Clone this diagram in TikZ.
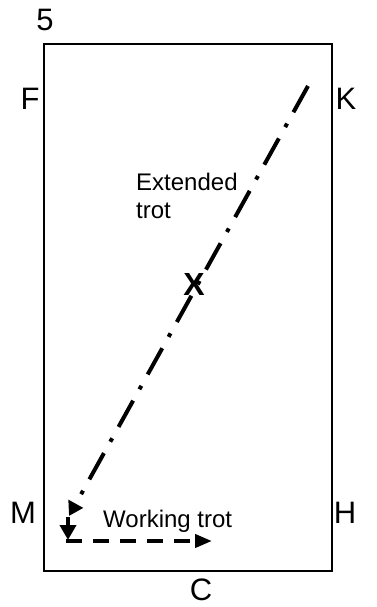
\documentclass[tikz,border=0pt]{standalone}
\usepackage{fontspec}
\setmainfont{Liberation Sans}
\usetikzlibrary{arrows.meta}
\begin{document}
\begin{tikzpicture}[x=1pt,y=-1pt,
  big/.style={font=\fontsize{31}{34}\selectfont, inner sep=0pt},
  small/.style={font=\fontsize{24}{28}\selectfont, inner sep=0pt, align=left},
  arena/.style={line width=1.5pt},
  ext/.style={line width=4pt, dash pattern=on 30pt off 13pt on 4pt off 13pt,
    -{Triangle[length=14pt,width=16pt]}},
  downarr/.style={line width=4pt, -{Triangle[length=15pt,width=16pt]}},
  work/.style={line width=4pt, dash pattern=on 16pt off 11pt,
    -{Triangle[length=17pt,width=13pt]}}]
\useasboundingbox (0,0) rectangle (377,607);
\draw[arena] (44,44) rectangle (332,571);
\node[big] (five) at (45,20) {5};
\node[big] (F) at (30,99) {F};
\node[big] (K) at (346,99) {K};
\node[big] (M) at (23,513) {M};
\node[big] (H) at (345,513) {H};
\node[big] (C) at (201,590) {C};
\node[font=\fontsize{32}{34}\selectfont\bfseries, inner sep=0pt] (X) at (194,284) {X};
\node[small, anchor=north west] (ext) at (136,173) {Extended\\trot};
\node[small, anchor=base west] (work) at (103,527) {Working trot};
\coordinate (s) at (308,86);
\coordinate (e) at (69,516);
\coordinate (d1) at (68,517);
\coordinate (d2) at (68,540);
\coordinate (h1) at (66,541);
\coordinate (h2) at (212,541);
\draw[ext] (s) -- (e);
\draw[downarr] (d1) -- (d2);
\draw[work] (h1) -- (h2);
\end{tikzpicture}
\end{document}
